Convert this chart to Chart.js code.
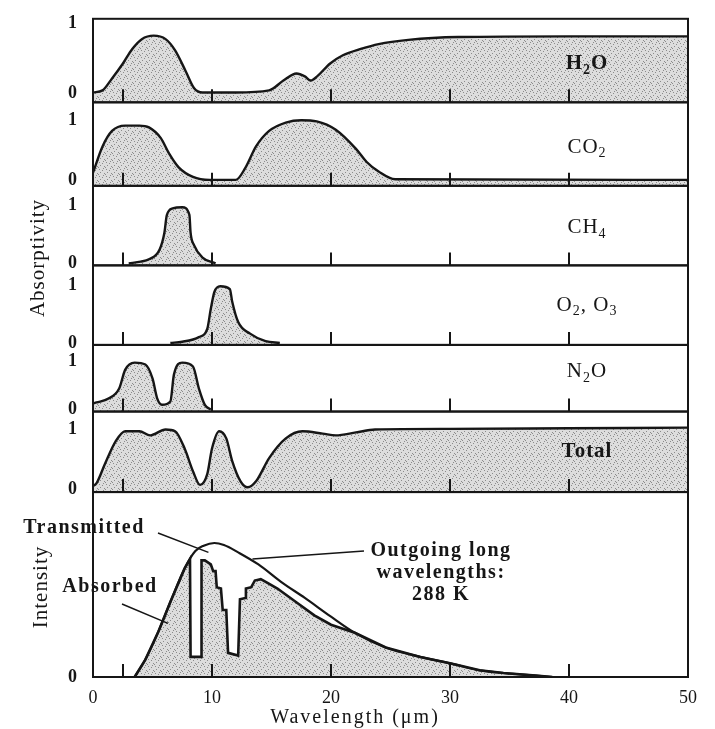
<!DOCTYPE html>
<html>
<head>
<meta charset="utf-8">
<script src="https://cdn.jsdelivr.net/npm/chart.js@4.4.1/dist/chart.umd.min.js"></script>
<style>
  html, body { margin: 0; padding: 0; background: #fff; }
  canvas { display: block; }
</style>
</head>
<body>
<canvas id="chart" width="715" height="729"></canvas>
<script>
// absorptivity bands: wavelength in um, absorptivity 0..1
const waveH2O = [0, 0.8, 1.6, 2.5, 3.3, 4.1, 5.1, 6.1, 6.9, 7.8, 8.5, 9.2, 12, 14.8, 16, 17.1, 17.8, 18.3, 18.9, 19.9, 21, 22.5, 24, 26.5, 30.7, 40, 50];
const absH2O  = [0.01, 0.04, 0.21, 0.42, 0.63, 0.77, 0.82, 0.77, 0.61, 0.31, 0.07, 0.01, 0.01, 0.04, 0.18, 0.28, 0.24, 0.18, 0.25, 0.42, 0.54, 0.63, 0.7, 0.76, 0.8, 0.81, 0.81];

const waveCO2 = [0, 0.8, 1.6, 2.7, 3.9, 4.7, 5.7, 6.4, 7.2, 8.4, 9.8, 12, 12.8, 13.7, 14.8, 16.2, 17.5, 18.8, 20.4, 22.1, 23, 24, 25.4, 50];
const absCO2  = [0.12, 0.56, 0.82, 0.91, 0.91, 0.88, 0.7, 0.44, 0.21, 0.05, 0, 0, 0.2, 0.56, 0.82, 0.96, 1.0, 0.98, 0.84, 0.52, 0.3, 0.14, 0.01, 0];

const waveCH4 = [3, 4.0, 4.7, 5.6, 6.0, 6.2, 6.7, 7.5, 8.1, 8.2, 8.5, 9.2, 10.3];
const absCH4  = [0, 0.03, 0.07, 0.24, 0.53, 0.83, 0.95, 0.97, 0.84, 0.53, 0.31, 0.1, 0];

const waveO3 = [6.5, 7.5, 8.9, 9.6, 9.9, 10.2, 10.7, 11.5, 11.7, 12.2, 13.2, 14.5, 15.7];
const absO3  = [0, 0.02, 0.1, 0.24, 0.59, 0.88, 0.98, 0.93, 0.71, 0.36, 0.16, 0.03, 0];

const waveN2O = [0, 0.3, 1.3, 2.2, 2.7, 3.5, 4.4, 5.0, 5.4, 5.8, 6.5, 6.8, 7.5, 8.4, 8.9, 9.4, 9.9];
const absN2O  = [0.13, 0.15, 0.23, 0.44, 0.83, 0.98, 0.94, 0.65, 0.23, 0.1, 0.17, 0.73, 0.98, 0.9, 0.44, 0.1, 0];

const waveTotal = [0, 0.3, 1, 1.9, 2.7, 3.9, 4.8, 6.1, 6.9, 7.7, 8.4, 9.0, 9.6, 10.0, 10.6, 11.2, 11.7, 12.4, 13, 13.7, 14.8, 16.2, 17.6, 19.3, 20.4, 22.1, 23.7, 30, 40, 50];
const absTotal  = [0.05, 0.1, 0.42, 0.8, 0.97, 0.97, 0.9, 1.0, 0.97, 0.68, 0.3, 0.07, 0.25, 0.68, 0.97, 0.85, 0.47, 0.13, 0.03, 0.13, 0.52, 0.85, 0.97, 0.93, 0.9, 0.95, 1.0, 1.01, 1.02, 1.03];

// outgoing 288 K emission (relative intensity) and the part left after absorption
const waveOutgoing = [3.5, 4.4, 5.5, 6.5, 7.7, 8.6, 9.3, 10.2, 11.0, 12.2, 13.9, 15.8, 17.8, 20, 22, 24.6, 27.5, 30.1, 32.5, 34.5, 37.2, 38.6];
const intOutgoing  = [0, 0.13, 0.34, 0.56, 0.81, 0.94, 0.98, 1.0, 0.985, 0.93, 0.84, 0.71, 0.59, 0.45, 0.33, 0.22, 0.15, 0.1, 0.05, 0.03, 0.01, 0];

const waveInner = [3.5, 4.4, 5.5, 6.5, 7.7, 8.15, 8.2, 9.08, 9.12, 9.4, 9.9, 10.1, 10.3, 10.4, 10.75, 10.9, 11.2, 11.35, 12.2, 12.35, 12.8, 12.85, 13.3, 13.6, 14.1, 14.7, 15.5, 17.2, 18.6, 20, 22, 24.6, 27.5, 30.1, 32.5, 34.5, 37.2, 38.6];
const intInner  = [0, 0.13, 0.34, 0.56, 0.81, 0.88, 0.15, 0.15, 0.87, 0.87, 0.84, 0.79, 0.79, 0.67, 0.66, 0.5, 0.5, 0.18, 0.16, 0.58, 0.59, 0.66, 0.67, 0.72, 0.73, 0.7, 0.66, 0.55, 0.46, 0.39, 0.33, 0.22, 0.15, 0.1, 0.05, 0.03, 0.01, 0];

const xTickMarks = [2.5, 10, 20, 30, 40];
const absTicks = [0, 1];
const intTicks = [0];

const serif = '"Liberation Serif", "DejaVu Serif", serif';
const ink = '#161616';

const canvas = document.getElementById('chart');
const ctx = canvas.getContext('2d');

// speckled grey fill like the printed stipple
function makeStipple() {
    const tile = document.createElement('canvas');
    tile.width = 7;
    tile.height = 7;
    const g = tile.getContext('2d');
    g.fillStyle = '#dddddd';
    g.fillRect(0, 0, 7, 7);
    g.fillStyle = '#8c8c8c';
    [[1, 1], [4, 2], [2, 4], [6, 5], [5, 0], [0, 6]].forEach(p => g.fillRect(p[0], p[1], 1, 1));
    return ctx.createPattern(tile, 'repeat');
}
const stipple = makeStipple();

const panels = [
    { id: 'yH2O', wave: waveH2O, abs: absH2O, min: -0.13, max: 1.06, height: 84, labelDy: 45, bold: true, name: [['H', 0], ['2', 1], ['O', 0]] },
    { id: 'yCO2', wave: waveCO2, abs: absCO2, min: -0.1, max: 1.3, height: 84, labelDy: 45, bold: false, name: [['CO', 0], ['2', 1]] },
    { id: 'yCH4', wave: waveCH4, abs: absCH4, min: -0.035, max: 1.34, height: 80, labelDy: 42, bold: false, name: [['CH', 0], ['4', 1]] },
    { id: 'yO3', wave: waveO3, abs: absO3, min: -0.035, max: 1.34, height: 80, labelDy: 40, bold: false, name: [['O', 0], ['2', 1], [', O', 0], ['3', 1]] },
    { id: 'yN2O', wave: waveN2O, abs: absN2O, min: -0.04, max: 1.35, height: 67, labelDy: 27, bold: false, name: [['N', 0], ['2', 1], ['O', 0]] },
    { id: 'yTotal', wave: waveTotal, abs: absTotal, min: -0.05, max: 1.3, height: 81, labelDy: 40, bold: true, name: [['Total', 0]] }
];

const datasets = panels.map(p => ({
    data: p.wave.map((w, i) => ({ x: w, y: p.abs[i] })),
    yAxisID: p.id,
    borderColor: ink,
    borderWidth: 2.4,
    backgroundColor: stipple,
    fill: 'start',
    pointRadius: 0,
    cubicInterpolationMode: 'monotone'
}));

datasets.push({
    data: waveOutgoing.map((w, i) => ({ x: w, y: intOutgoing[i] })),
    yAxisID: 'yI',
    borderColor: ink,
    borderWidth: 2.2,
    fill: false,
    pointRadius: 0,
    cubicInterpolationMode: 'monotone'
});
datasets.push({
    data: waveInner.map((w, i) => ({ x: w, y: intInner[i] })),
    yAxisID: 'yI',
    borderColor: ink,
    borderWidth: 2.6,
    backgroundColor: stipple,
    fill: 'start',
    pointRadius: 0,
    tension: 0
});

const scales = {
    x: {
        type: 'linear', position: 'bottom', min: 0, max: 50,
        grid: { display: false }, border: { display: false },
        ticks: { stepSize: 10, color: ink, padding: 2, font: { family: serif, size: 18 } },
        afterFit: s => { s.height = 52; }
    }
};
panels.forEach((p, i) => {
    scales[p.id] = {
        type: 'linear', position: 'left', stack: 'bands', stackWeight: p.height,
        weight: panels.length + 1 - i, min: p.min, max: p.max,
        grid: { display: false }, border: { display: false },
        ticks: { color: ink, padding: 8, font: { family: serif, size: 18, weight: 'bold' } },
        afterBuildTicks: s => { s.ticks = absTicks.map(v => ({ value: v })); },
        afterFit: s => { s.width = 93; }
    };
});
scales.yI = {
    type: 'linear', position: 'left', stack: 'bands', stackWeight: 186,
    weight: 0, min: 0, max: 1.38,
    grid: { display: false }, border: { display: false },
    ticks: { color: ink, padding: 8, font: { family: serif, size: 18, weight: 'bold' } },
    afterBuildTicks: s => { s.ticks = intTicks.map(v => ({ value: v })); },
    afterFit: s => { s.width = 93; }
};

// chemical formula with subscripts, centred on x
function drawFormula(c, parts, x, y, size, bold) {
    const big = (bold ? 'bold ' : '') + size + 'px ' + serif;
    const small = (bold ? 'bold ' : '') + Math.round(size * 0.66) + 'px ' + serif;
    let total = 0;
    parts.forEach(p => { c.font = p[1] ? small : big; total += c.measureText(p[0]).width; });
    let cx = x - total / 2;
    c.textAlign = 'left';
    c.textBaseline = 'middle';
    parts.forEach(p => {
        c.font = p[1] ? small : big;
        c.fillText(p[0], cx, p[1] ? y + size * 0.3 : y);
        cx += c.measureText(p[0]).width;
    });
}

const panelFrame = {
    id: 'panelFrame',
    afterDatasetsDraw(chart) {
        const { ctx: c, chartArea: a, scales: sc } = chart;
        c.save();
        c.strokeStyle = ink;
        c.lineWidth = 2;
        panels.map(p => p.id).concat(['yI']).forEach(id => {
            const s = sc[id];
            c.strokeRect(a.left, s.top, a.right - a.left, s.bottom - s.top);
            xTickMarks.forEach(v => {
                const px = Math.round(sc.x.getPixelForValue(v));
                c.beginPath();
                c.moveTo(px, s.bottom);
                c.lineTo(px, s.bottom - 13);
                c.stroke();
            });
        });
        c.restore();
    },
    afterDraw(chart) {
        const { ctx: c, scales: sc } = chart;
        const px = v => sc.x.getPixelForValue(v);
        const py = v => sc.yI.getPixelForValue(v);
        c.save();
        c.fillStyle = ink;
        c.strokeStyle = ink;
        c.letterSpacing = '1px';

        panels.forEach(p => {
            drawFormula(c, p.name, 587, sc[p.id].top + p.labelDy, 21, p.bold);
        });

        c.textAlign = 'center';
        c.textBaseline = 'middle';

        // rotated axis titles
        c.font = '21px ' + serif;
        c.save();
        c.translate(38, 258);
        c.rotate(-Math.PI / 2);
        c.fillText('Absorptivity', 0, 0);
        c.restore();
        c.save();
        c.translate(41, 587);
        c.rotate(-Math.PI / 2);
        c.fillText('Intensity', 0, 0);
        c.restore();

        c.letterSpacing = '2px';
        c.font = '20px ' + serif;
        c.fillText('Wavelength (\u03bcm)', 355, 718);

        // notes in the emission panel
        c.letterSpacing = '1.5px';
        c.font = 'bold 20px ' + serif;
        c.fillText('Transmitted', 84, 528);
        c.fillText('Absorbed', 110, 587);
        c.fillText('Outgoing long', 441, 551);
        c.fillText('wavelengths:', 441, 573);
        c.fillText('288 K', 441, 595);

        c.lineWidth = 1.5;
        c.beginPath();
        c.moveTo(158, 533);
        c.lineTo(px(9.7), py(0.93));
        c.moveTo(122, 604);
        c.lineTo(px(6.3), py(0.4));
        c.moveTo(px(13.4), py(0.88));
        c.lineTo(364, 551);
        c.stroke();
        c.restore();
    }
};

new Chart(ctx, {
    type: 'line',
    data: { datasets: datasets },
    options: {
        responsive: false,
        animation: false,
        devicePixelRatio: 1,
        layout: { padding: { top: 1, right: 27, bottom: 0, left: 0 } },
        plugins: { legend: { display: false }, tooltip: { enabled: false } },
        scales: scales
    },
    plugins: [panelFrame]
});
</script>
</body>
</html>
